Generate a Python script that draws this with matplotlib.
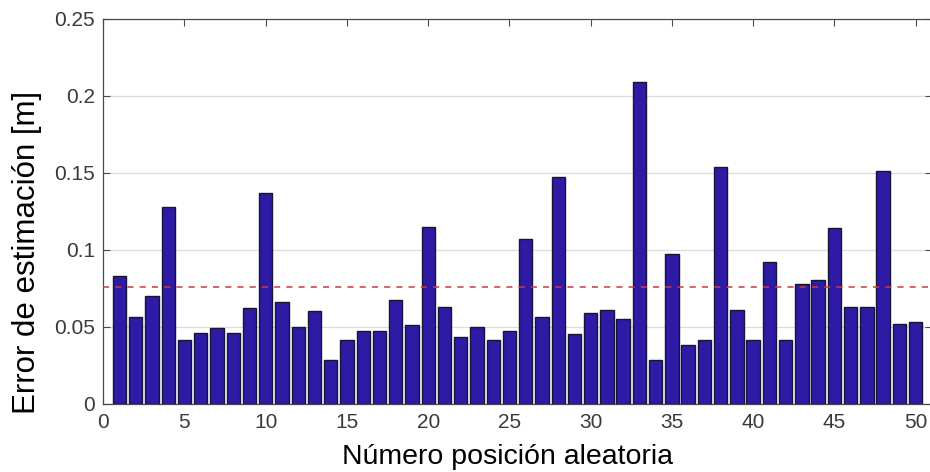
import numpy as np
import matplotlib.pyplot as plt

# Estimation error for each random position
position = np.arange(1, 51)
error = [0.083, 0.056, 0.070, 0.128, 0.041, 0.046, 0.049, 0.046, 0.062, 0.137,
         0.066, 0.050, 0.060, 0.028, 0.041, 0.047, 0.047, 0.067, 0.051, 0.115,
         0.063, 0.043, 0.050, 0.041, 0.047, 0.107, 0.056, 0.147, 0.045, 0.059,
         0.061, 0.055, 0.209, 0.028, 0.097, 0.038, 0.041, 0.154, 0.061, 0.041,
         0.092, 0.041, 0.078, 0.080, 0.114, 0.063, 0.063, 0.151, 0.052, 0.053]
mean_error = 0.0756

y_ticks = [0, 0.05, 0.1, 0.15, 0.2, 0.25]
y_ticklabels = ['0', '0.05', '0.1', '0.15', '0.2', '0.25']
x_ticks = [0, 5, 10, 15, 20, 25, 30, 35, 40, 45, 50]

plt.rcParams['font.family'] = ['Liberation Sans', 'DejaVu Sans']

fig = plt.figure(figsize=(9.3, 4.72), dpi=100)
ax = fig.add_axes([0.111, 0.145, 0.891, 0.815])

ax.bar(position, error, width=0.82, color='#2f1aa6', edgecolor='#15153a',
       linewidth=1.0, zorder=3)
ax.axhline(mean_error, color='#d0383f', linestyle=(0, (4, 4)), linewidth=1.1,
           zorder=4)

ax.set_xlim(0, 51)
ax.set_ylim(0, 0.25)
ax.set_yticks(y_ticks)
ax.set_yticklabels(y_ticklabels)
ax.set_xticks(x_ticks)

# light horizontal grid only
ax.grid(True, axis='y', color='#dcdcdc', linewidth=0.9)
ax.set_axisbelow(True)

for side in ['top', 'bottom', 'left', 'right']:
    ax.spines[side].set_color('#4a4a4a')
    ax.spines[side].set_linewidth(0.9)

ax.tick_params(axis='both', direction='in', length=5, width=0.8,
               colors='#4a4a4a', labelcolor='#3a3a3a',
               top=True, right=True)
ax.tick_params(axis='x', pad=7, labelsize=15)
ax.tick_params(axis='y', pad=6, labelsize=15)

ax.set_xlabel('Número posición aleatoria', fontsize=20.5)
ax.xaxis.set_label_coords(0.488, -0.105)
ax.set_ylabel('Error de estimación [m]', fontsize=22.5, va='center')
ax.yaxis.set_label_coords(-0.092, 0.394)

plt.savefig('out.png', dpi=100)
